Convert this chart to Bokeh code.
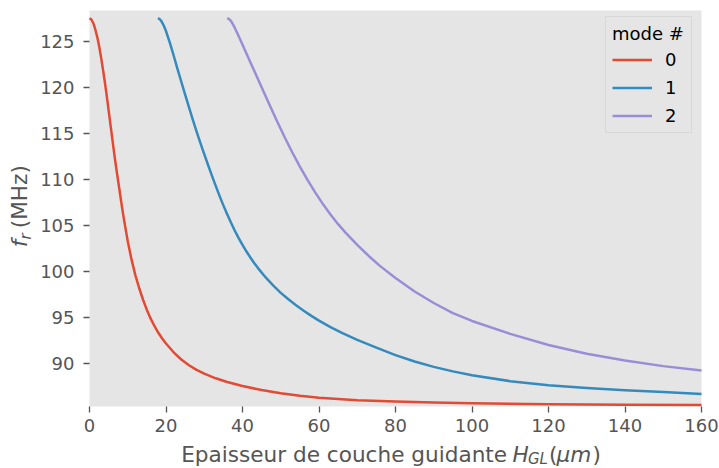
import math
from bokeh.plotting import figure
from bokeh.models import Range1d, FixedTicker, Label, LinearAxis, BoxAnnotation
from bokeh.embed import file_html
from bokeh.resources import INLINE

# ---- data ----
mode0_x = [0, 0.5, 1.0, 1.5, 2.0, 2.5, 3.0, 3.5, 4.0, 4.5, 5.0, 5.5, 6.0, 6.5, 7.0, 7.5, 8.0, 8.5, 9.0,
           10, 11, 12, 13, 14, 15, 16, 17, 18, 19, 20, 22, 24, 26, 28, 30, 33, 36, 40, 45, 50, 55, 60,
           70, 80, 90, 100, 120, 140, 160]
mode0_y = [127.5, 127.35, 126.95, 126.3, 125.5, 124.5, 123.3, 122.0, 120.6, 119.1, 117.5, 115.9, 114.3,
           112.7, 111.2, 109.8, 108.4, 107.0, 105.7,
           103.3, 101.3, 99.6, 98.2, 96.95, 95.85, 94.9, 94.08, 93.37, 92.75, 92.2, 91.25, 90.47, 89.85,
           89.35, 88.93, 88.43, 88.03, 87.6, 87.15, 86.8, 86.53, 86.33,
           86.05, 85.9, 85.8, 85.72, 85.62, 85.57, 85.53]

mode1_x = [17.9, 18.4, 18.9, 19.4, 20, 21, 22, 23, 24, 25, 26, 27, 28, 29, 30, 31, 32, 33, 34, 35, 36,
           37, 38, 39, 40, 41, 42, 43, 44, 46, 48, 50, 52, 54, 56, 58, 60, 63, 66, 70, 75, 80, 85, 90,
           95, 100, 110, 120, 130, 140, 150, 160]
mode1_y = [127.5, 127.38, 127.1, 126.7, 126.1, 124.85, 123.45, 122.0, 120.6, 119.2, 117.85, 116.5, 115.2,
           113.95, 112.75, 111.57, 110.42, 109.3, 108.22, 107.19, 106.22,
           105.3, 104.44, 103.64, 102.9, 102.21, 101.57, 100.97, 100.41, 99.4, 98.5, 97.7, 97.0, 96.36,
           95.76, 95.2, 94.68, 93.98, 93.35, 92.6, 91.75, 90.95, 90.25, 89.67,
           89.18, 88.76, 88.12, 87.68, 87.37, 87.13, 86.93, 86.73]

mode2_x = [36.0, 36.6, 37.2, 37.8, 38.5, 39.6, 41, 43, 45, 47, 49, 51, 53, 55, 57, 59, 61, 63, 65, 67,
           70, 73, 76, 80, 85, 90, 95, 100, 110, 120, 130, 140, 150, 160]
mode2_y = [127.5, 127.38, 127.05, 126.6, 126.0, 125.0, 123.7, 121.85, 120.0, 118.15, 116.35, 114.6,
           112.95, 111.4, 109.95, 108.6, 107.35, 106.2, 105.15, 104.2,
           102.9, 101.7, 100.6, 99.3, 97.85, 96.6, 95.5, 94.65, 93.25, 92.05, 91.1, 90.35, 89.75, 89.28]

mode_labels = ["0", "1", "2"]
mode_colors = ["#E24A33", "#348ABD", "#988ED5"]

x_ticks = [0, 20, 40, 60, 80, 100, 120, 140, 160]
y_ticks = [90, 95, 100, 105, 110, 115, 120, 125]

x_lim = (0, 160)
y_lim = (85.37, 128.33)

# ---- layout in pixels ----
W, H = 719, 468
L, R, T, B = 89, 701, 10, 406          # plot-area box in canvas pixels
sx = (R - L) / (x_lim[1] - x_lim[0])
sy = (B - T) / (y_lim[1] - y_lim[0])

def px2x(px):
    return x_lim[0] + (px - L) / sx

def py2y(py):
    return y_lim[0] + (B - py) / sy

FONT = "DejaVu Sans"
GREY = "#555555"

p = figure(width=W, height=H,
           x_range=Range1d(px2x(0), px2x(W)), y_range=Range1d(py2y(H), py2y(0)),
           x_axis_location=None, y_axis_location=None,
           output_backend="svg", toolbar_location=None,
           min_border_left=0, min_border_right=0, min_border_top=0, min_border_bottom=0)

p.background_fill_color = "white"
p.border_fill_color = "white"
p.outline_line_color = None
for g in p.grid:
    g.visible = False

# plot area background
p.add_layout(BoxAnnotation(left=x_lim[0], right=x_lim[1], bottom=y_lim[0], top=y_lim[1],
                           fill_color="#E5E5E5", fill_alpha=1.0, line_color=None, level="underlay"))

# white grid lines at the ticks
gx = x_ticks[1:-1]
p.segment(x0=gx, y0=[y_lim[0]] * len(gx), x1=gx, y1=[y_lim[1]] * len(gx),
          line_color="white", line_width=1.4, level="underlay")
p.segment(x0=[x_lim[0]] * len(y_ticks), y0=y_ticks, x1=[x_lim[1]] * len(y_ticks), y1=y_ticks,
          line_color="white", line_width=1.4, level="underlay")

# axes fixed to the plot-area edges
xa = LinearAxis(fixed_location=y_lim[0], ticker=FixedTicker(ticks=x_ticks))
ya = LinearAxis(fixed_location=x_lim[0], ticker=FixedTicker(ticks=y_ticks))
for ax in (xa, ya):
    ax.axis_line_color = None
    ax.major_tick_line_color = GREY
    ax.major_tick_line_width = 1.3
    ax.major_tick_out = 6
    ax.major_tick_in = 0
    ax.minor_tick_line_color = None
    ax.major_label_text_color = GREY
    ax.major_label_text_font = FONT
    ax.major_label_text_font_size = "18px"
xa.major_label_standoff = 6
ya.major_label_standoff = 9
p.add_layout(xa, "below")
p.add_layout(ya, "left")

series = [(mode0_x, mode0_y), (mode1_x, mode1_y), (mode2_x, mode2_y)]
for (xs, ys), lab_, col in zip(series, mode_labels, mode_colors):
    p.line(xs, ys, line_color=col, line_width=2.5, line_join="round", legend_label=lab_)

lg = p.legend[0]
lg.title = "mode #"
lg.location = (605, H - 133)
lg.margin = 0
lg.padding = 6
lg.spacing = 7
lg.title_standoff = 5
lg.title_text_font = FONT
lg.title_text_font_size = "18px"
lg.title_text_font_style = "normal"
lg.title_text_color = "black"
lg.label_text_font = FONT
lg.label_text_font_size = "18px"
lg.label_text_color = "black"
lg.glyph_width = 40
lg.glyph_height = 21
lg.label_height = 21
lg.label_standoff = 13
lg.border_line_color = "#CCCCCC"
lg.border_line_width = 1
lg.background_fill_color = "#E5E5E5"
lg.background_fill_alpha = 0.8

# ---- axis labels (with italic / subscript parts) ----
# anchors are shifted to compensate the renderer's baseline offset (~0.385 em)
def lab(text, px, py, size=21.6, style="normal", align="left", angle=0.0):
    p.add_layout(Label(x=px2x(px), y=py2y(py), text=text,
                       text_font=FONT, text_font_size=f"{size}px", text_font_style=style,
                       text_color=GREY, text_align=align, text_baseline="alphabetic",
                       angle=angle, angle_units="rad"))

off_big, off_sub = 8.3, 5.8
xb = 462.7 - off_big
xs_ = 464.0 - off_sub
lab("Epaisseur de couche guidante", 180.7, xb)
lab("H", 512.0, xb, style="italic")
lab("GL", 527.5, xs_, size=15, style="italic")
lab("(", 548.5, xb)
lab("\u03bcm", 556.0, xb, style="italic")
lab(")", 592.0, xb)

a = math.pi / 2
yb = 18.5
ys_ = yb + off_big + 4.3 - off_sub
lab("f", yb, 246.7, style="italic", angle=a)
lab("r", ys_, 239.0, size=15, style="italic", angle=a)
lab("(MHz)", yb, 164.7, align="right", angle=a)

open("out.html", "w").write(file_html(p, INLINE))
